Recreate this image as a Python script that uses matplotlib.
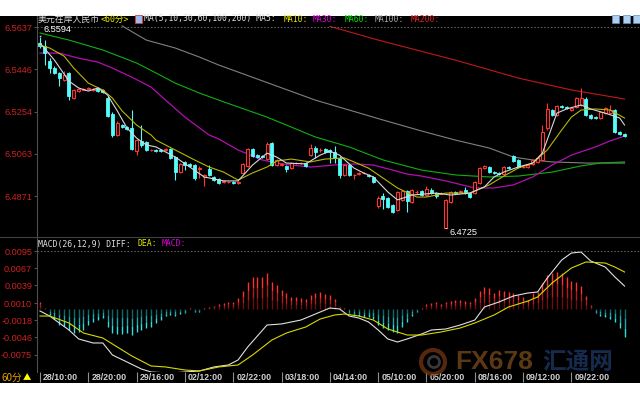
import numpy as np
import matplotlib.pyplot as plt
from matplotlib.patches import Rectangle, Ellipse

# === USD/CNY onshore, 60-minute bars ===
opens = [6.5564, 6.5551, 6.5483, 6.5451, 6.5429, 6.5397, 6.5429, 6.5315, 6.5347, 6.5354,
         6.5358, 6.5352, 6.5361, 6.5352, 6.5315, 6.5243, 6.5148, 6.5193, 6.5184, 6.5180,
         6.5075, 6.5121, 6.5116, 6.5078, 6.5080, 6.5080, 6.5080, 6.5085, 6.5048, 6.4980,
         6.5026, 6.5017, 6.5012, 6.4994, 6.4958, 6.4994, 6.4958, 6.4949, 6.4935, 6.4933,
         6.4935, 6.4931, 6.4976, 6.5008, 6.5085, 6.5057, 6.5053, 6.5039, 6.5112, 6.5012,
         6.5012, 6.5008, 6.4998, 6.5019, 6.5019, 6.5021, 6.5057, 6.5089, 6.5078, 6.5085,
         6.5080, 6.5071, 6.5044, 6.4967, 6.5012, 6.4965, 6.4971, 6.4974, 6.4967, 6.4958,
         6.4826, 6.4872, 6.4863, 6.4831, 6.4808, 6.4854, 6.4894, 6.4845, 6.4888, 6.4894,
         6.4876, 6.4899, 6.4885, 6.4883, 6.4727, 6.4845, 6.4890, 6.4892, 6.4899, 6.4885,
         6.4885, 6.4931, 6.4998, 6.5003, 6.4980, 6.4976, 6.4971, 6.5003, 6.5053, 6.5035,
         6.5001, 6.5003, 6.5017, 6.5026, 6.5035, 6.5180, 6.5261, 6.5238, 6.5279, 6.5275,
         6.5261, 6.5275, 6.5284, 6.5311, 6.5238, 6.5229, 6.5225, 6.5247, 6.5247, 6.5261,
         6.5161, 6.5152]
highs = [6.5594, 6.5578, 6.5496, 6.5460, 6.5433, 6.5438, 6.5433, 6.5356, 6.5361, 6.5361,
         6.5365, 6.5361, 6.5365, 6.5356, 6.5324, 6.5252, 6.5211, 6.5198, 6.5189, 6.5261,
         6.5130, 6.5193, 6.5121, 6.5085, 6.5085, 6.5085, 6.5089, 6.5089, 6.5053, 6.5021,
         6.5030, 6.5021, 6.5017, 6.5008, 6.4971, 6.5012, 6.4962, 6.4953, 6.4944, 6.4940,
         6.4940, 6.4940, 6.5021, 6.5089, 6.5089, 6.5062, 6.5057, 6.5116, 6.5116, 6.5039,
         6.5021, 6.5012, 6.5026, 6.5026, 6.5026, 6.5026, 6.5107, 6.5098, 6.5089, 6.5089,
         6.5085, 6.5098, 6.5053, 6.5017, 6.5017, 6.4971, 6.4980, 6.4980, 6.4971, 6.4962,
         6.4872, 6.4885, 6.4867, 6.4836, 6.4894, 6.4899, 6.4899, 6.4903, 6.4899, 6.4899,
         6.4917, 6.4908, 6.4890, 6.4890, 6.4858, 6.4894, 6.4894, 6.4899, 6.4913, 6.4890,
         6.4940, 6.5003, 6.5012, 6.5008, 6.4985, 6.4980, 6.5008, 6.5008, 6.5057, 6.5039,
         6.5008, 6.5017, 6.5039, 6.5048, 6.5193, 6.5293, 6.5266, 6.5284, 6.5284, 6.5279,
         6.5275, 6.5320, 6.5361, 6.5320, 6.5243, 6.5234, 6.5257, 6.5275, 6.5284, 6.5266,
         6.5166, 6.5157]
lows = [6.5542, 6.5465, 6.5429, 6.5424, 6.5370, 6.5392, 6.5306, 6.5311, 6.5343, 6.5352,
        6.5356, 6.5347, 6.5343, 6.5338, 6.5229, 6.5139, 6.5143, 6.5180, 6.5171, 6.5080,
        6.5057, 6.5094, 6.5075, 6.5075, 6.5071, 6.5071, 6.5075, 6.5039, 6.4944, 6.4976,
        6.4989, 6.5003, 6.4944, 6.4953, 6.4917, 6.4962, 6.4940, 6.4926, 6.4931, 6.4931,
        6.4926, 6.4926, 6.4971, 6.5003, 6.5048, 6.5044, 6.5044, 6.5035, 6.5008, 6.5008,
        6.5008, 6.4980, 6.4994, 6.5017, 6.5017, 6.5003, 6.5053, 6.5044, 6.5071, 6.5066,
        6.5021, 6.5021, 6.4953, 6.4962, 6.4962, 6.4949, 6.4967, 6.4971, 6.4958, 6.4931,
        6.4817, 6.4813, 6.4817, 6.4795, 6.4804, 6.4849, 6.4799, 6.4840, 6.4881, 6.4872,
        6.4872, 6.4881, 6.4863, 6.4881, 6.4725, 6.4840, 6.4881, 6.4890, 6.4881, 6.4863,
        6.4881, 6.4926, 6.4994, 6.4976, 6.4971, 6.4967, 6.4967, 6.4994, 6.5026, 6.4998,
        6.4998, 6.4998, 6.5012, 6.5021, 6.5030, 6.5171, 6.5234, 6.5234, 6.5270, 6.5266,
        6.5257, 6.5270, 6.5279, 6.5234, 6.5220, 6.5220, 6.5220, 6.5243, 6.5243, 6.5157,
        6.5148, 6.5139]
closes = [6.5551, 6.5519, 6.5451, 6.5429, 6.5406, 6.5420, 6.5324, 6.5352, 6.5356, 6.5356,
          6.5361, 6.5356, 6.5347, 6.5343, 6.5234, 6.5148, 6.5202, 6.5184, 6.5175, 6.5085,
          6.5125, 6.5103, 6.5080, 6.5080, 6.5075, 6.5075, 6.5085, 6.5044, 6.4980, 6.5017,
          6.5012, 6.5008, 6.4953, 6.4998, 6.4967, 6.4967, 6.4944, 6.4931, 6.4940, 6.4935,
          6.4929, 6.4935, 6.5017, 6.5085, 6.5053, 6.5048, 6.5048, 6.5107, 6.5012, 6.5035,
          6.5017, 6.4994, 6.5021, 6.5021, 6.5021, 6.5008, 6.5089, 6.5071, 6.5080, 6.5071,
          6.5071, 6.5044, 6.4967, 6.5012, 6.4967, 6.4967, 6.4976, 6.4976, 6.4962, 6.4935,
          6.4863, 6.4858, 6.4822, 6.4799, 6.4890, 6.4894, 6.4849, 6.4899, 6.4890, 6.4876,
          6.4903, 6.4885, 6.4872, 6.4885, 6.4854, 6.4890, 6.4885, 6.4894, 6.4885, 6.4867,
          6.4935, 6.4998, 6.5008, 6.4980, 6.4976, 6.4971, 6.5003, 6.4998, 6.5030, 6.5003,
          6.5003, 6.5012, 6.5035, 6.5044, 6.5161, 6.5266, 6.5238, 6.5279, 6.5275, 6.5270,
          6.5270, 6.5315, 6.5315, 6.5238, 6.5225, 6.5225, 6.5252, 6.5270, 6.5261, 6.5161,
          6.5152, 6.5143]

# moving averages, read at bar indices
ma5_x = [0, 3, 6, 8, 10, 12, 14, 16, 18, 20, 22, 24, 28, 31, 34, 38, 41, 44, 47, 49,
         51, 55, 58, 60, 62, 65, 67, 69, 72, 74, 77, 82, 85, 89, 92, 94, 96, 99, 102, 104,
         107, 109, 112, 114, 117, 120, 121]
ma5_y = [6.5564, 6.5487, 6.5392, 6.5361, 6.5347, 6.5361, 6.5329, 6.5257, 6.5180, 6.5134,
         6.5103, 6.5094, 6.5048, 6.5003, 6.4958, 6.4940, 6.4940, 6.5012, 6.5066, 6.5048,
         6.5021, 6.5017, 6.5057, 6.5075, 6.5057, 6.4998, 6.4976, 6.4958, 6.4890, 6.4854,
         6.4876, 6.4885, 6.4876, 6.4885, 6.4913, 6.4958, 6.4980, 6.5003, 6.5021, 6.5066,
         6.5247, 6.5266, 6.5284, 6.5266, 6.5247, 6.5225, 6.5193]
ma10_x = [0, 2, 5, 7, 10, 13, 15, 17, 20, 23, 24, 28, 32, 35, 38, 41, 44, 47, 49, 52,
          56, 59, 63, 65, 68, 71, 74, 78, 80, 84, 89, 93, 96, 99, 102, 105, 108, 110, 112, 115,
          118, 121]
ma10_y = [6.5555, 6.5542, 6.5505, 6.5451, 6.5383, 6.5352, 6.5315, 6.5257, 6.5193, 6.5148,
          6.5125, 6.5080, 6.5035, 6.5003, 6.4980, 6.4944, 6.4976, 6.5003, 6.5030, 6.5039,
          6.5026, 6.5039, 6.5044, 6.5026, 6.4998, 6.4953, 6.4908, 6.4867, 6.4867, 6.4885,
          6.4885, 6.4922, 6.4962, 6.4998, 6.5021, 6.5080, 6.5171, 6.5229, 6.5261, 6.5266,
          6.5261, 6.5225]
ma30_x = [0, 4, 8, 12, 15, 19, 23, 26, 30, 35, 37, 41, 46, 49, 52, 56, 61, 65, 69, 73,
          76, 79, 84, 90, 94, 98, 102, 106, 110, 115, 118, 121]
ma30_y = [6.5519, 6.5519, 6.5496, 6.5478, 6.5451, 6.5410, 6.5365, 6.5306, 6.5229, 6.5148,
          6.5130, 6.5080, 6.5035, 6.5021, 6.5012, 6.5003, 6.5012, 6.5017, 6.5012, 6.4989,
          6.4971, 6.4962, 6.4940, 6.4908, 6.4908, 6.4922, 6.4958, 6.5012, 6.5057, 6.5094,
          6.5121, 6.5143]
ma60_x = [0, 6, 13, 20, 24, 28, 33, 37, 47, 57, 64, 71, 79, 86, 93, 99, 106, 112, 116, 121]
ma60_y = [6.5610, 6.5578, 6.5533, 6.5474, 6.5429, 6.5383, 6.5338, 6.5306, 6.5229, 6.5139,
          6.5094, 6.5035, 6.4989, 6.4967, 6.4958, 6.4962, 6.4980, 6.5008, 6.5021, 6.5026]
ma100_x = [17, 22, 28, 33, 37, 57, 64, 71, 79, 86, 93, 98, 102, 106, 113, 121]
ma100_y = [6.5642, 6.5578, 6.5542, 6.5501, 6.5465, 6.5306, 6.5261, 6.5216, 6.5166, 6.5125,
           6.5089, 6.5048, 6.5035, 6.5026, 6.5021, 6.5021]
ma200_x = [60, 70, 86, 99, 110, 121]
ma200_y = [6.5640, 6.5578, 6.5487, 6.5406, 6.5352, 6.5311]

# MACD(26,12,9)
macd_hist = [0.00117, 0.00018, -0.00097, -0.00163, -0.00262, -0.00278, -0.00344, -0.00394, -0.00377, -0.00344,
             -0.00262, -0.00212, -0.00180, -0.00147, -0.00295, -0.00394, -0.00410, -0.00410, -0.00394, -0.00427,
             -0.00377, -0.00344, -0.00311, -0.00295, -0.00229, -0.00180, -0.00114, -0.00097, -0.00114, -0.00081,
             -0.00064, 0.00010, -0.00048, -0.00048, 0.00010, 0.00035, 0.00051, 0.00084, 0.00100, 0.00117,
             0.00117, 0.00183, 0.00298, 0.00446, 0.00529, 0.00529, 0.00529, 0.00595, 0.00446, 0.00397,
             0.00315, 0.00265, 0.00199, 0.00199, 0.00183, 0.00166, 0.00232, 0.00265, 0.00282, 0.00249,
             0.00232, 0.00166, 0.00035, 0.00010, -0.00064, -0.00114, -0.00114, -0.00130, -0.00130, -0.00163,
             -0.00262, -0.00311, -0.00344, -0.00377, -0.00394, -0.00295, -0.00212, -0.00114, -0.00048, 0.00010,
             0.00084, 0.00100, 0.00117, 0.00084, 0.00117, 0.00133, 0.00150, 0.00150, 0.00133, 0.00117,
             0.00183, 0.00298, 0.00364, 0.00348, 0.00265, 0.00315, 0.00298, 0.00282, 0.00265, 0.00232,
             0.00199, 0.00150, 0.00265, 0.00282, 0.00430, 0.00562, 0.00595, 0.00611, 0.00595, 0.00529,
             0.00463, 0.00446, 0.00380, 0.00216, 0.00068, -0.00064, -0.00114, -0.00130, -0.00163, -0.00212,
             -0.00311, -0.00460]
diff_x = [0, 2, 6, 8, 11, 13, 15, 18, 21, 23, 27, 30, 33, 36, 39, 41, 43, 45, 47, 50,
          54, 58, 60, 62, 64, 66, 68, 70, 72, 74, 76, 79, 81, 84, 87, 90, 92, 95, 98, 101,
          103, 105, 108, 110, 112, 114, 117, 119, 121]
diff_y = [-0.00031, -0.00114, -0.00344, -0.00492, -0.00558, -0.00558, -0.00756, -0.00871, -0.00987, -0.01036,
          -0.01053, -0.01036, -0.01019, -0.00953, -0.00920, -0.00838, -0.00624, -0.00443, -0.00262, -0.00245,
          -0.00180, -0.00048, 0.00018, 0.00002, -0.00114, -0.00147, -0.00212, -0.00344, -0.00492, -0.00542,
          -0.00492, -0.00410, -0.00344, -0.00328, -0.00262, -0.00180, 0.00035, 0.00117, 0.00216, 0.00265,
          0.00282, 0.00512, 0.00809, 0.00924, 0.00940, 0.00792, 0.00693, 0.00529, 0.00380]
dea_x = [0, 2, 6, 9, 13, 16, 19, 23, 26, 30, 33, 37, 41, 44, 48, 51, 55, 58, 61, 63,
         66, 69, 72, 76, 79, 83, 87, 90, 94, 97, 101, 103, 106, 110, 113, 117, 119, 121]
dea_y = [-0.00114, -0.00114, -0.00229, -0.00394, -0.00476, -0.00624, -0.00772, -0.00937, -0.00953, -0.01003,
         -0.01019, -0.00953, -0.00920, -0.00756, -0.00509, -0.00394, -0.00295, -0.00163, -0.00097, -0.00081,
         -0.00114, -0.00180, -0.00328, -0.00427, -0.00427, -0.00377, -0.00311, -0.00229, -0.00097, 0.00035,
         0.00133, 0.00199, 0.00430, 0.00677, 0.00776, 0.00759, 0.00693, 0.00611]

tick_idx = [0, 10, 20, 30, 40, 50, 60, 70, 80, 90, 100, 110]
tick_labels = ["28/10:00", "28/20:00", "29/16:00", "02/12:00", "02/22:00", "03/18:00",
               "04/14:00", "05/10:00", "05/20:00", "08/16:00", "09/12:00", "09/22:00"]
price_ticks = [6.5637, 6.5446, 6.5254, 6.5063, 6.4871]
macd_ticks = [0.0095, 0.0067, 0.0039, 0.0010, -0.0018, -0.0046, -0.0075]
hi_idx, hi_val = 0, 6.5594
lo_idx, lo_val = 84, 6.4725

RED = '#ff3434'
CYAN = '#54fcfc'
CJK = ['Noto Sans CJK SC', 'DejaVu Sans']
MONO = ['DejaVu Sans Mono', 'Noto Sans CJK SC']


def fx(px):
    return px / 640


def fy(py):
    return 1 - py / 400


fig = plt.figure(figsize=(6.4, 4.0), dpi=100, facecolor='white')
fig.patches.append(Rectangle((0, fy(383)), 1, (383 - 16) / 400, transform=fig.transFigure,
                             facecolor='black', edgecolor='none', zorder=-10))

ax = fig.add_axes([fx(37), fy(237), 1 - fx(37), 221 / 400])
axm = fig.add_axes([fx(37), fy(372), 1 - fx(37), 135 / 400])
for a in (ax, axm):
    a.set_facecolor('none')
    for s in ('top', 'right', 'bottom'):
        a.spines[s].set_visible(False)
    a.spines['left'].set_color('#505050')
    a.set_xlim(-0.62, 124.2)

# --- price panel ---
ax.set_ylim(6.4686, 6.5687)
bw = 0.62
for i in range(len(opens)):
    o, h, l, c = opens[i], highs[i], lows[i], closes[i]
    top, bot = max(o, c), min(o, c)
    if c >= o:
        ax.vlines(i, top, h, color=RED, lw=0.8, zorder=3)
        ax.vlines(i, l, bot, color=RED, lw=0.8, zorder=3)
        ax.add_patch(Rectangle((i - bw / 2, bot), bw, max(top - bot, 0.00003),
                               facecolor='black', edgecolor=RED, lw=0.8, zorder=3))
    else:
        ax.vlines(i, l, h, color=CYAN, lw=0.8, zorder=3)
        ax.add_patch(Rectangle((i - bw / 2, bot), bw, top - bot,
                               facecolor=CYAN, edgecolor=CYAN, lw=0.6, zorder=3))

ax.plot(ma200_x, ma200_y, color='#c01818', lw=0.8, zorder=2)
ax.plot(ma100_x, ma100_y, color='#808080', lw=0.8, zorder=2)
ax.plot(ma60_x, ma60_y, color='#10b010', lw=0.8, zorder=2)
ax.plot(ma30_x, ma30_y, color='#b010b0', lw=0.9, zorder=2)
ax.plot(ma10_x, ma10_y, color='#b8b800', lw=0.8, zorder=4)
ax.plot(ma5_x, ma5_y, color='#d8d8d8', lw=0.8, zorder=4)

ax.axhline(price_ticks[0], color='#707070', lw=0.6, ls=(0, (2, 2)))
ax.set_yticks(price_ticks)
ax.set_yticklabels([f"{v:.4f}" for v in price_ticks])
ax.set_xticks([])
ax.tick_params(axis='y', colors='#505050', labelcolor='#d02020', length=2, pad=1.5,
               labelsize=6.6, labelfontfamily='Liberation Sans')

ax.annotate(f"{hi_val:.4f}", xy=(hi_idx, hi_val), xytext=(4, 7), textcoords='offset pixels',
            color='white', fontsize=6.6, family='Liberation Sans', va='center',
            arrowprops=dict(arrowstyle='-', color='white', lw=0.6, shrinkA=0, shrinkB=0))
ax.annotate(f"{lo_val:.4f}", xy=(lo_idx, lo_val), xytext=(4, -4), textcoords='offset pixels',
            color='white', fontsize=6.6, family='Liberation Sans', va='center',
            arrowprops=dict(arrowstyle='-', color='white', lw=0.6, shrinkA=0, shrinkB=0))

# --- MACD panel ---
axm.set_ylim(-0.01036, 0.011875)
for i, v in enumerate(macd_hist):
    if v >= 0:
        shades = ['#6a0e0e', '#b01c1c', '#ff3030']
    else:
        shades = ['#0e6a6a', '#1ca8a8', '#30e0e0']
    for k, col in enumerate(shades):
        axm.vlines(i, v * k / 3, v * (k + 1) / 3, color=col, lw=1.0)
axm.plot(diff_x, diff_y, color='#e0e0e0', lw=0.8)
axm.plot(dea_x, dea_y, color='#d8d800', lw=0.8)
axm.axhline(macd_ticks[0], color='#707070', lw=0.6, ls=(0, (2, 2)))
axm.set_yticks(macd_ticks)
axm.set_yticklabels([f"{v:.4f}" for v in macd_ticks])
axm.tick_params(axis='y', colors='#505050', labelcolor='#d02020', length=2, pad=1.5,
                labelsize=6.6, labelfontfamily='Liberation Sans')
axm.set_xticks(tick_idx)
axm.set_xticklabels([])
axm.tick_params(axis='x', colors='#909090', length=7, width=0.8, direction='out')
for i, lab in zip(tick_idx, tick_labels):
    axm.annotate(lab, xy=(i, 0), xycoords=('data', 'axes fraction'), xytext=(3, -6),
                 textcoords='offset pixels', ha='left', va='center', color='#d0d0d0',
                 fontsize=6.4, fontweight='bold', family='Liberation Sans', zorder=5)

# separator between panels
fig.add_artist(plt.Line2D([0, 1], [fy(237), fy(237)], color='#404040', lw=0.8))

# --- header texts ---
fig.text(fx(38), fy(19), "美元在岸人民币", color='#d8d8d8', fontsize=6.4, family=CJK, va='center')
fig.text(fx(101), fy(19), "<60分>", color='#f0f000', fontsize=6.0, family=MONO, va='center')
fig.patches.append(Rectangle((fx(135), fy(23)), 7 / 640, 8 / 400, transform=fig.transFigure,
                             facecolor='#a0b8f0', edgecolor='#d04040', lw=0.6))
legend_parts = [(144, "MA(5,10,30,60,100,200) MA5:", '#e0e0e0'),
                (284, "MA10:", '#e8e800'), (313, "MA30:", '#e000e0'),
                (345, "MA60:", '#00e000'), (375, "MA100:", '#a8a8a8'),
                (411, "MA200:", '#e02020')]
for px, s, col in legend_parts:
    fig.text(fx(px), fy(19), s, color=col, fontsize=5.9, family=MONO, va='center')
for px, s, col in [(38, "MACD(26,12,9) DIFF:", '#e0e0e0'), (137, "DEA:", '#e8e800'),
                   (162, "MACD:", '#e000e0')]:
    fig.text(fx(px), fy(244), s, color=col, fontsize=5.9, family=MONO, va='center')

for px in (612, 623, 633):
    fig.patches.append(Rectangle((fx(px), fy(23)), 7 / 640, 8 / 400, transform=fig.transFigure,
                                 facecolor='#b0d0f0', edgecolor='#6090c0', lw=0.5))

fig.text(fx(1), fy(378), "60分", color='#e8a000', fontsize=7, family=CJK, va='center')
fig.text(fx(23), fy(378), "▲", color='#ffff00', fontsize=6, family=CJK, va='center')

# --- watermark (sits behind the time labels) ---
fig.patches.append(Ellipse((fx(433), fy(362)), 24 / 640, 24 / 400, transform=fig.transFigure,
                           facecolor='none', edgecolor='#7a3a14', lw=3, alpha=0.7))
fig.patches.append(Ellipse((fx(434), fy(362)), 11 / 640, 11 / 400, transform=fig.transFigure,
                           facecolor='none', edgecolor='#505050', lw=2, alpha=0.7))
fig.text(fx(455), fy(362), "FX678", color='#7a4a1c', fontsize=19, fontweight='bold',
         family='Liberation Sans', va='center', alpha=0.75, zorder=0)
fig.text(fx(542), fy(362), "汇通网", color='#1c3563', fontsize=17, fontweight='bold',
         family=CJK, va='center', alpha=0.8, zorder=0)

fig.savefig('out.png', dpi=100, facecolor='white')
